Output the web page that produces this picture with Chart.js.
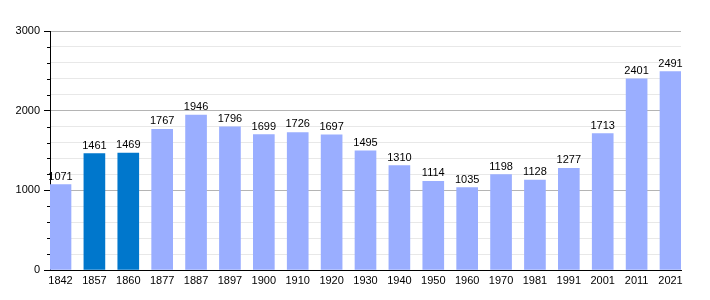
<!DOCTYPE html>
<html>
<head>
<meta charset="utf-8">
<script src="https://cdn.jsdelivr.net/npm/chart.js@4"></script>
<style>
    html, body { margin: 0; padding: 0; background: #fff; }
    #wrap { width: 710px; height: 300px; }
</style>
</head>
<body>
<div id="wrap"><canvas id="popChart" width="710" height="300"></canvas></div>
<script>
// Population by census year
const years = ['1842', '1857', '1860', '1877', '1887', '1897', '1900', '1910', '1920', '1930',
    '1940', '1950', '1960', '1970', '1981', '1991', '2001', '2011', '2021'];
const population = [1071, 1461, 1469, 1767, 1946, 1796, 1699, 1726, 1697, 1495,
    1310, 1114, 1035, 1198, 1128, 1277, 1713, 2401, 2491];
const highlightYears = ['1857', '1860'];
const yTicks = [0, 1000, 2000, 3000];

const lightBar = '#9aaeff';
const darkBar = '#0077cc';
const FONT = 'Liberation Sans, Arial, sans-serif';

// value labels above each bar
const barLabels = {
    id: 'barLabels',
    afterDatasetsDraw(chart) {
        const { ctx } = chart;
        const meta = chart.getDatasetMeta(0);
        ctx.save();
        ctx.font = '11px ' + FONT;
        ctx.fillStyle = '#000';
        ctx.textAlign = 'center';
        ctx.textBaseline = 'alphabetic';
        meta.data.forEach((bar, i) => {
            ctx.fillText(String(population[i]), bar.x, bar.y - 5);
        });
        ctx.restore();
    }
};

// short minor ticks on the y axis
const minorTicks = {
    id: 'minorTicks',
    afterDraw(chart) {
        const { ctx } = chart;
        const y = chart.scales.y;
        ctx.save();
        ctx.strokeStyle = '#000';
        ctx.lineWidth = 1;
        y.ticks.forEach(t => {
            if (t.value % 1000 === 0) return;
            const py = Math.round(y.getPixelForValue(t.value)) + 0.5;
            ctx.beginPath();
            ctx.moveTo(y.right - 3, py);
            ctx.lineTo(y.right, py);
            ctx.stroke();
        });
        ctx.restore();
    }
};

new Chart(document.getElementById('popChart'), {
    type: 'bar',
    data: {
        datasets: [{
            data: population.map((v, i) => ({ x: i, y: v })),
            backgroundColor: years.map(y => highlightYears.includes(y) ? darkBar : lightBar),
            barThickness: 21,
            borderWidth: 0
        }]
    },
    options: {
        responsive: false,
        animation: false,
        layout: { padding: { top: 31, right: 29, bottom: 0, left: 0 } },
        plugins: {
            legend: { display: false },
            tooltip: { enabled: false }
        },
        scales: {
            x: {
                type: 'linear',
                offset: false,
                min: -0.31,
                max: years.length - 1 + 0.31,
                afterBuildTicks: (scale) => {
                    scale.ticks = years.map((_, i) => ({ value: i }));
                },
                afterFit: (scale) => { scale.height = 30; },
                grid: { display: false, drawTicks: false, offset: false },
                border: { color: '#000', width: 1 },
                ticks: {
                    padding: 4,
                    autoSkip: false,
                    maxRotation: 0,
                    color: '#000',
                    font: { family: FONT, size: 11 },
                    callback: (v) => years[v]
                }
            },
            y: {
                min: 0,
                max: 3000,
                afterBuildTicks: (scale) => {
                    const t = [];
                    for (let v = 0; v <= 3000; v += 200) t.push({ value: v });
                    scale.ticks = t;
                },
                afterFit: (scale) => { scale.width = 50; },
                grid: {
                    color: (c) => c.tick && c.tick.value % 1000 === 0 ? '#b4b4b4' : '#e8e8e8',
                    tickColor: (c) => c.tick && c.tick.value % 1000 === 0 ? '#000' : 'rgba(0,0,0,0)',
                    tickLength: 6
                },
                border: { color: '#000', width: 1 },
                ticks: {
                    padding: 4,
                    autoSkip: false,
                    color: '#000',
                    font: { family: FONT, size: 11 },
                    callback: (v) => yTicks.includes(v) ? String(v) : ''
                }
            }
        }
    },
    plugins: [barLabels, minorTicks]
});
</script>
</body>
</html>
